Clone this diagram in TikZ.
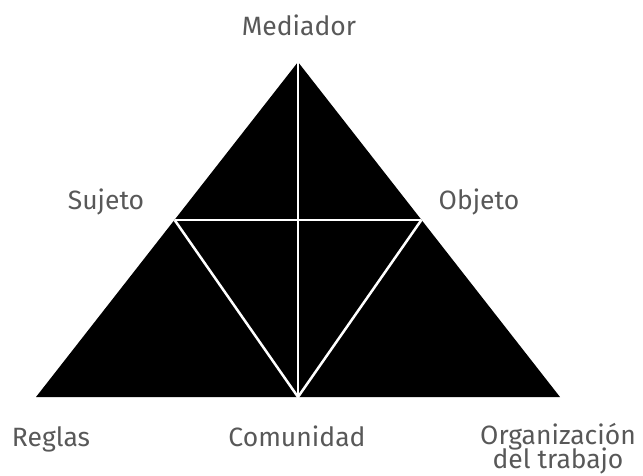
\documentclass[tikz,border=0pt]{standalone}
\usepackage{fontspec}
\setmainfont{Fira Sans}
\definecolor{labelgray}{HTML}{585858}
\begin{document}
\begin{tikzpicture}[x=1pt,y=-1pt,
  lbl/.style={anchor=base,text=labelgray,font=\fontsize{26.5}{28}\selectfont,inner sep=0pt},
  wline/.style={draw=white,line width=2.5pt}]
\useasboundingbox (0,0) rectangle (643,475);
\coordinate (A) at (298,62);
\coordinate (L) at (36,397);
\coordinate (R) at (560,397);
\coordinate (S) at (174.6,220);
\coordinate (O) at (421.4,220);
\coordinate (B) at (298,397);
\fill[black] (A) -- (L) -- (R) -- cycle;
\draw[wline] (S) -- (O);
\draw[wline] (A) -- (B);
\draw[wline] (S) -- (B) -- (O);
\node[lbl] (med) at (299,35) {Mediador};
\node[lbl] (suj) at (106,209) {Sujeto};
\node[lbl] (obj) at (479,209) {Objeto};
\node[lbl] (reg) at (51,446) {Reglas};
\node[lbl] (com) at (297,446) {Comunidad};
\node[lbl] (org) at (558,444) {Organización};
\node[lbl] (tra) at (558,468) {del trabajo};
\end{tikzpicture}
\end{document}
